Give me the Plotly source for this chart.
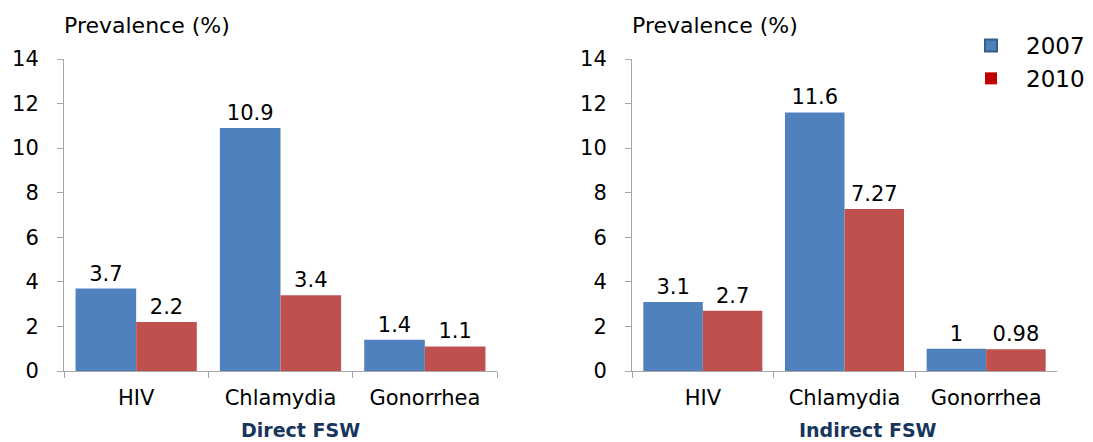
import plotly.graph_objects as go

FONT = "DejaVu Sans"
BLUE = "#4F81BD"
RED = "#C0504D"
AXIS = "#A6A6A6"
NAVY = "#17365D"

# the page body has an 8px margin, so the figure is drawn 8px smaller
OFF = 8
W, H = 1093 - OFF, 442 - OFF

categories = ["HIV", "Chlamydia", "Gonorrhea"]
years = ["2007", "2010"]

direct_2007 = [3.7, 10.9, 1.4]
direct_2010 = [2.2, 3.4, 1.1]
indirect_2007 = [3.1, 11.6, 1]
indirect_2010 = [2.7, 7.27, 0.98]

panel_titles = ["Direct FSW", "Indirect FSW"]
y_title = "Prevalence (%)"


def px_x(v):
    return (v - OFF) / W


def px_y(v):
    return (H - (v - OFF)) / H


def bars(vals, color, name, ax):
    return go.Bar(x=categories, y=vals, name=name,
                  marker=dict(color=color, line=dict(width=0)),
                  texttemplate="%{y}", textposition="outside",
                  textfont=dict(family=FONT, size=21, color="black"),
                  cliponaxis=False, showlegend=False,
                  xaxis="x" + ax, yaxis="y" + ax)


fig = go.Figure()
fig.add_trace(bars(direct_2007, BLUE, years[0], ""))
fig.add_trace(bars(direct_2010, RED, years[1], ""))
fig.add_trace(bars(indirect_2007, BLUE, years[0], "2"))
fig.add_trace(bars(indirect_2010, RED, years[1], "2"))

# legend entries only, on a hidden axis pair
fig.add_trace(go.Bar(x=[None], y=[None], name=years[0], legendgroup="a",
                     xaxis="x3", yaxis="y3",
                     marker=dict(color=BLUE, line=dict(color="#385D8A", width=2))))
fig.add_trace(go.Bar(x=[None], y=[None], name=years[1], legendgroup="b",
                     xaxis="x3", yaxis="y3",
                     marker=dict(color="#C00000", line=dict(width=0))))

xax = dict(showline=True, linecolor=AXIS, linewidth=1, ticks="outside",
           tickson="boundaries", ticklen=6, tickcolor=AXIS,
           ticklabelstandoff=8, showgrid=False, fixedrange=True,
           automargin=False,
           tickfont=dict(family=FONT, size=21, color="black"))
yax = dict(range=[0, 14], dtick=2, showline=True, linecolor=AXIS,
           linewidth=1, ticks="outside", ticklen=6, tickcolor=AXIS,
           ticklabelstandoff=14, showgrid=False, zeroline=False,
           automargin=False,
           tickfont=dict(family=FONT, size=21, color="black"))

ydom = [px_y(371), px_y(59)]

fig.update_layout(
    width=W, height=H,
    margin=dict(l=0, r=0, t=0, b=0),
    paper_bgcolor="white", plot_bgcolor="white",
    barmode="group", bargap=0.16, bargroupgap=0,
    xaxis=dict(domain=[px_x(64), px_x(497)], anchor="y", **xax),
    yaxis=dict(domain=ydom, anchor="x", **yax),
    xaxis2=dict(domain=[px_x(632), px_x(1057)], anchor="y2", **xax),
    yaxis2=dict(domain=ydom, anchor="x2", **yax),
    xaxis3=dict(domain=[0, 0.01], anchor="y3", visible=False),
    yaxis3=dict(domain=[0, 0.01], anchor="x3", visible=False),
    legend=dict(x=px_x(956), y=px_y(24), xanchor="left", yanchor="top",
                traceorder="grouped", tracegroupgap=0, itemwidth=60,
                font=dict(family=FONT, size=23, color="black"),
                bgcolor="rgba(0,0,0,0)"),
    showlegend=True,
)

for xp in [62, 630]:
    fig.add_annotation(text=y_title, xref="paper", yref="paper",
                       x=px_x(xp), y=px_y(25), xanchor="left",
                       yanchor="middle", showarrow=False,
                       font=dict(family=FONT, size=22, color="black"))

for xp, t in zip([300, 868], panel_titles):
    fig.add_annotation(text="<b>" + t + "</b>", xref="paper", yref="paper",
                       x=px_x(xp), y=px_y(430), xanchor="center",
                       yanchor="middle", showarrow=False,
                       font=dict(family=FONT, size=19, color=NAVY))

fig.write_html("out.html")
